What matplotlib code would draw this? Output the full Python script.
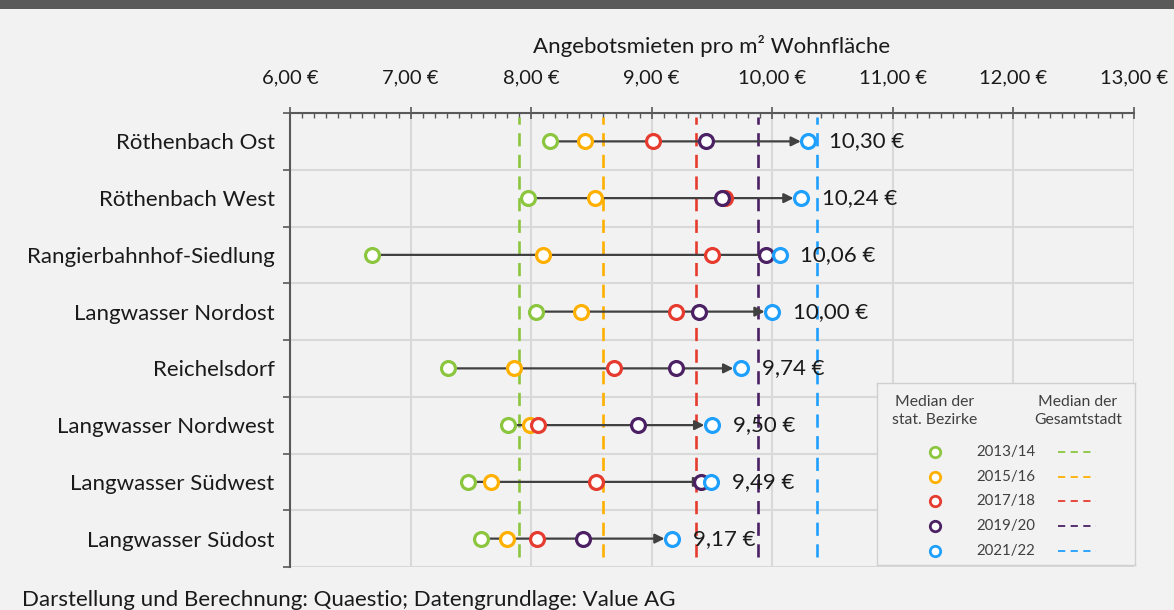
import matplotlib.pyplot as plt
from matplotlib.patches import Rectangle
from matplotlib.ticker import MultipleLocator, FuncFormatter, FixedLocator

plt.rcParams['font.family'] = ['Lato', 'DejaVu Sans']

# Angebotsmieten (Median) je statistischem Bezirk, Euro pro m²
districts = ['Röthenbach Ost', 'Röthenbach West', 'Rangierbahnhof-Siedlung',
             'Langwasser Nordost', 'Reichelsdorf', 'Langwasser Nordwest',
             'Langwasser Südwest', 'Langwasser Südost']
years = ['2013/14', '2015/16', '2017/18', '2019/20', '2021/22']
rent_1314 = [8.16, 7.97, 6.68, 8.04, 7.31, 7.81, 7.48, 7.58]
rent_1516 = [8.45, 8.53, 8.10, 8.41, 7.86, 7.99, 7.67, 7.80]
rent_1718 = [9.01, 9.61, 9.50, 9.20, 8.69, 8.06, 8.54, 8.05]
rent_1920 = [9.45, 9.58, 9.95, 9.39, 9.20, 8.89, 9.41, 8.43]
rent_2122 = [10.30, 10.24, 10.06, 10.00, 9.74, 9.50, 9.49, 9.17]
# Median der Gesamtstadt je Zeitraum
city_median = [7.90, 8.60, 9.37, 9.88, 10.37]

series = [rent_1314, rent_1516, rent_1718, rent_1920, rent_2122]
colors = ['#8cc63f', '#ffb000', '#e63c2f', '#4b2164', '#1fa0ff']
bg = '#f2f2f2'
axis_col = '#595959'
grid_col = '#d9d9d9'
txt_col = '#1a1a1a'

fig = plt.figure(figsize=(11.74, 6.10), dpi=100, facecolor=bg)

# dunkler Balken am oberen Rand
fig.patches.append(Rectangle((0, 1 - 9 / 610), 1, 9 / 610, transform=fig.transFigure,
                             facecolor='#595959', edgecolor='none', zorder=0))

ax = fig.add_axes([290 / 1174, 1 - 567 / 610, 844 / 1174, 454 / 610])
ax.set_facecolor(bg)
n = len(districts)
ax.set_xlim(6, 13)
ax.set_ylim(0, n)
ypos = [n - 0.5 - i for i in range(n)]

# Gitter
for xv in range(6, 14):
    ax.axvline(xv, color=grid_col, lw=1.5, zorder=0)
for yv in range(0, n + 1):
    ax.axhline(yv, color=grid_col, lw=1.5, zorder=0)

# Median der Gesamtstadt als gestrichelte Linien
for med, c in zip(city_median, colors):
    ax.plot([med, med], [0.17, n - 0.07], color=c, lw=1.9, dashes=(5, 3.2), zorder=2)

# Pfeil vom ersten zum letzten Zeitraum
for y, start, end in zip(ypos, rent_1314, rent_2122):
    ax.annotate('', xy=(end, y), xytext=(start, y),
                arrowprops=dict(arrowstyle='-|>', color='#404040', lw=1.6,
                                shrinkA=0, shrinkB=5.5, mutation_scale=14),
                zorder=3)

for vals, c in zip(series, colors):
    ax.plot(vals, ypos, ls='none', marker='o', ms=10, mew=2.3, mec=c, mfc='white', zorder=4)

for y, v in zip(ypos, rent_2122):
    ax.annotate(f'{v:.2f} €'.replace('.', ','), xy=(v, y), xytext=(15, 0),
                textcoords='offset points', va='center', ha='left', fontsize=16,
                color=txt_col, zorder=5)

# Achsen
ax.xaxis.tick_top()
ax.xaxis.set_label_position('top')
ax.xaxis.set_major_locator(MultipleLocator(1))
ax.xaxis.set_minor_locator(MultipleLocator(0.1))
ax.xaxis.set_major_formatter(FuncFormatter(lambda v, p: f'{v:.2f} €'.replace('.', ',')))
ax.tick_params(axis='x', which='major', direction='inout', length=9, width=1.2,
               color=axis_col, labelsize=14.5, labelcolor=txt_col, pad=14.5)
ax.tick_params(axis='x', which='minor', direction='in', length=3.5, width=1.0, color=axis_col)
ax.set_xlabel('Angebotsmieten pro m² Wohnfläche', fontsize=16, color=txt_col, labelpad=12)

ax.yaxis.set_major_locator(FixedLocator(range(0, n + 1)))
ax.yaxis.set_major_formatter(FuncFormatter(lambda v, p: ''))
ax.yaxis.set_minor_locator(FixedLocator(ypos))
ax.yaxis.set_minor_formatter(FuncFormatter(lambda v, p: districts[int(n - 0.5 - v + 0.01)]))
ax.tick_params(axis='y', which='major', direction='out', length=5, width=1.2, color=axis_col)
ax.tick_params(axis='y', which='minor', length=0, labelsize=16, labelcolor=txt_col, pad=11)

for side in ['right', 'bottom']:
    ax.spines[side].set_visible(False)
for side in ['top', 'left']:
    ax.spines[side].set_color(axis_col)
    ax.spines[side].set_linewidth(1.5)

# Legende
lg = fig.add_axes([877 / 1174, 1 - 565 / 610, 258 / 1174, 182 / 610])
lg.set_xlim(0, 258)
lg.set_ylim(182, 0)
lg.set_facecolor(bg)
lg.set_xticks([])
lg.set_yticks([])
for s in lg.spines.values():
    s.set_color('#d0d0d0')
    s.set_linewidth(1.0)
lg.text(58, 28, 'Median der\nstat. Bezirke', ha='center', va='center', fontsize=11.3,
        color='#404040', linespacing=1.3)
lg.text(201, 28, 'Median der\nGesamtstadt', ha='center', va='center', fontsize=11.3,
        color='#404040', linespacing=1.3)
for i, (yr, c) in enumerate(zip(years, colors)):
    yy = 69 + i * 24.7
    lg.plot([58], [yy], ls='none', marker='o', ms=7.5, mew=2.0, mec=c, mfc='white')
    lg.text(99, yy, yr, ha='left', va='center', fontsize=10.8, color='#404040')
    lg.plot([181, 219], [yy, yy], color=c, lw=1.3, dashes=(4, 3))

fig.text(22 / 1174, 1 - 600 / 610, 'Darstellung und Berechnung: Quaestio; Datengrundlage: Value AG',
         ha='left', va='center', fontsize=16, color=txt_col)

fig.savefig('out.png', dpi=100, facecolor=bg)
